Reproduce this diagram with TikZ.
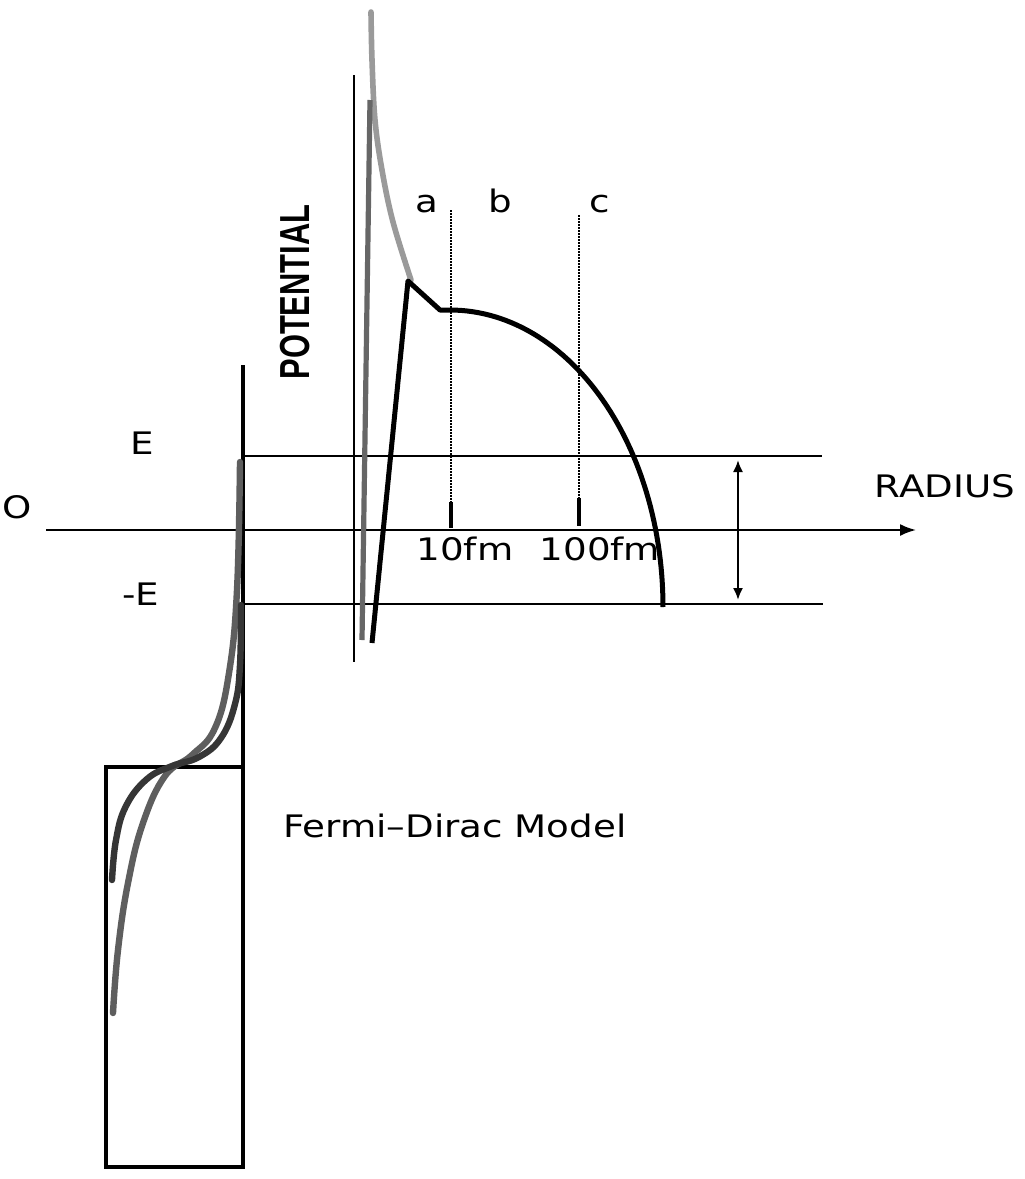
\documentclass[tikz,border=0pt]{standalone}
\usepackage{fontspec}
\setmainfont{DejaVu Sans}
\newfontfamily\potfont{Liberation Sans}
\usetikzlibrary{arrows.meta}
\definecolor{lightgr}{HTML}{9A9A9A}
\definecolor{midgr}{HTML}{666666}
\definecolor{fdmid}{HTML}{5E5E5E}
\definecolor{fddark}{HTML}{363636}
\begin{document}
\begin{tikzpicture}[x=0.5pt,y=-0.5pt,
  lbl/.style={font=\fontsize{15.5}{18}\selectfont, inner sep=0pt, anchor=base},
  thinline/.style={line width=1pt, black},
  wall/.style={line width=2pt, black},
  pot/.style={line width=2.5pt, black, line join=round},
  fd/.style={line width=3.2pt, line cap=round},
  dotline/.style={line width=1pt, dash pattern=on 1pt off 0.5pt},
  tick/.style={line width=2pt},
]
\fill[white] (0,0) rectangle (1024,1179);
\useasboundingbox (0,0) rectangle (1024,1179);

% axis
\coordinate (axL) at (46,530);
\coordinate (axR) at (916,530);
\draw[thinline, -{Latex[length=8pt,width=6pt]}] (axL) -- (axR);

% energy lines
\coordinate (eTopL) at (243,456);
\coordinate (eTopR) at (822,456);
\coordinate (eBotL) at (243,604);
\coordinate (eBotR) at (823,604);
\draw[thinline] (eTopL) -- (eTopR);
\draw[thinline] (eBotL) -- (eBotR);

% double arrow
\coordinate (dTop) at (738,460);
\coordinate (dBot) at (738,600);
\draw[thinline, {Latex[length=6pt,width=5pt]}-{Latex[length=6pt,width=5pt]}] (dTop) -- (dBot);

% wall and box
\coordinate (wTop) at (243,365);
\coordinate (wBot) at (243,1168);
\draw[wall] (wTop) -- (wBot);
\draw[wall] (106,767) rectangle (243,1167);

% potential axis line
\coordinate (pTop) at (354,75);
\coordinate (pBot) at (354,662);
\draw[line width=1.3pt] (pTop) -- (pBot);

% coulomb curve (light gray)
\draw[line width=2.8pt, lightgr, line cap=round] plot[smooth, tension=0.6] coordinates
  {(371,12) (372,60) (375,120) (382,170) (393,222) (411,280)};

% dark gray steep line
\coordinate (gTop) at (370,100);
\coordinate (gBot) at (362,640);
\draw[line width=2.6pt, midgr] (gTop) -- (gBot);

% black potential
\draw[pot] (372,643) -- (408,281) -- (440,310) -- (450,310)
  -- plot[domain=-90:0, samples=60] ({450+213*cos(\x)},{607+297*sin(\x)});

% dotted lines
\coordinate (aTop) at (451,210);
\coordinate (aBot) at (451,502);
\coordinate (cTop) at (579,215);
\coordinate (cBot) at (579,498);
\draw[dotline] (aTop) -- (aBot);
\draw[dotline] (cTop) -- (cBot);
\draw[tick] (451,502) -- (451,528);
\draw[tick] (579,498) -- (579,526);

% Fermi-Dirac curves
\draw[fd, fdmid] plot[smooth, tension=0.7] coordinates
  {(240,462) (237,590) (229,673) (215,728) (192,755) (165,776) (143,823) (128,883) (118,950) (113,1013)};
\draw[fd, fddark] plot[smooth, tension=0.7] coordinates
  {(241,605) (240,665) (235,704) (221,738) (199,757) (172,766) (147,779) (126,806) (116,840) (112,880)};

% labels
\node[lbl] (lO) at (17,518) {\scalebox{1.2}[1]{O}};
\node[lbl] (lE) at (142,454) {\scalebox{1.2}[1]{E}};
\node[lbl] (lmE) at (141,605) {\scalebox{1.2}[1]{-E}};
\node[lbl] (lR) at (945,497) {\scalebox{1.2}[1]{RADIUS}};
\node[lbl] (la) at (427,212) {\scalebox{1.2}[1]{a}};
\node[lbl] (lb) at (500,212) {\scalebox{1.2}[1]{b}};
\node[lbl] (lc) at (600,212) {\scalebox{1.2}[1]{c}};
\node[lbl] (l10) at (465,560) {\scalebox{1.2}[1]{10fm}};
\node[lbl] (l100) at (600,560) {\scalebox{1.2}[1]{100fm}};
\node[lbl] (lFD) at (455,837) {\scalebox{1.2}[1]{Fermi–Dirac Model}};
\node[inner sep=0pt, rotate=90, font=\potfont\bfseries\fontsize{21}{24}\selectfont] (lP) at (295,292) {\scalebox{0.735}[1]{POTENTIAL}};
\end{tikzpicture}
\end{document}
